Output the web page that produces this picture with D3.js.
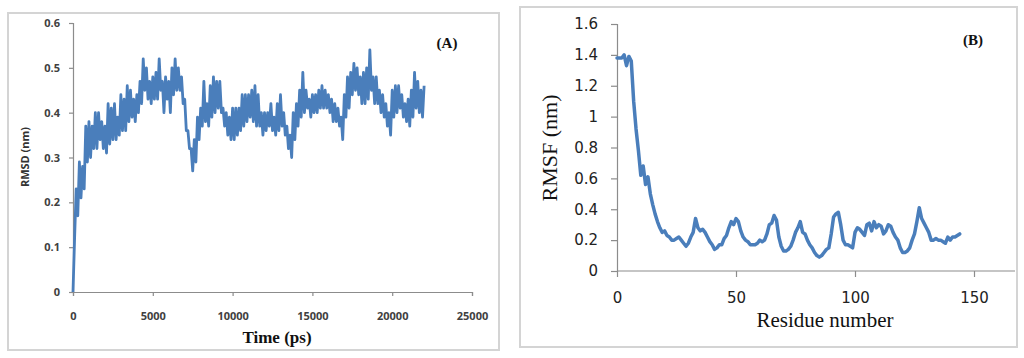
<!DOCTYPE html>
<html>
<head>
<meta charset="utf-8">
<script src="https://cdn.jsdelivr.net/npm/d3@7"></script>
<style>
  body { margin: 0; background: #fff; }
  svg { display: block; }
</style>
</head>
<body>
<div class="viz"></div>
<script>
// RMSD (nm) sampled every 100 ps, 0 .. 22000 ps
var rmsdStep = 100
var rmsd = [
  0.00, 0.12,
  0.23, 0.17, 0.29, 0.21, 0.28, 0.23, 0.37, 0.29, 0.38, 0.30,
  0.37, 0.32, 0.40, 0.32, 0.40, 0.34, 0.38, 0.32, 0.37, 0.31,
  0.42, 0.33, 0.41, 0.34, 0.42, 0.34, 0.39, 0.35, 0.44, 0.36,
  0.43, 0.36, 0.46, 0.38, 0.45, 0.39, 0.43, 0.38, 0.44, 0.40,
  0.47, 0.42, 0.52, 0.45, 0.50, 0.43, 0.47, 0.42, 0.48, 0.43,
  0.49, 0.43, 0.52, 0.45, 0.47, 0.40, 0.48, 0.43, 0.47, 0.40,
  0.50, 0.44, 0.52, 0.45, 0.50, 0.45, 0.48, 0.42, 0.43, 0.36,
  0.36, 0.32, 0.32, 0.27, 0.34, 0.29, 0.39, 0.34, 0.41, 0.37,
  0.47, 0.38, 0.42, 0.37, 0.46, 0.39, 0.48, 0.40, 0.47, 0.41,
  0.47, 0.40, 0.41, 0.37, 0.40, 0.35, 0.39, 0.34, 0.41, 0.34,
  0.41, 0.35, 0.41, 0.36, 0.44, 0.37, 0.44, 0.38, 0.44, 0.39,
  0.45, 0.38, 0.46, 0.37, 0.44, 0.37, 0.40, 0.35, 0.40, 0.36,
  0.40, 0.37, 0.42, 0.36, 0.39, 0.35, 0.42, 0.36, 0.44, 0.37,
  0.40, 0.35, 0.37, 0.32, 0.35, 0.30, 0.40, 0.34, 0.42, 0.37,
  0.45, 0.39, 0.49, 0.40, 0.45, 0.41, 0.43, 0.39, 0.44, 0.40,
  0.44, 0.40, 0.45, 0.41, 0.46, 0.41, 0.45, 0.41, 0.44, 0.40,
  0.43, 0.38, 0.42, 0.38, 0.41, 0.37, 0.39, 0.34, 0.44, 0.39,
  0.48, 0.41, 0.49, 0.44, 0.51, 0.45, 0.50, 0.44, 0.48, 0.42,
  0.49, 0.42, 0.50, 0.43, 0.54, 0.45, 0.48, 0.42, 0.48, 0.42,
  0.45, 0.40, 0.44, 0.39, 0.42, 0.37, 0.40, 0.35, 0.45, 0.39,
  0.46, 0.40, 0.46, 0.41, 0.44, 0.39, 0.42, 0.38, 0.43, 0.37,
  0.45, 0.39, 0.49, 0.41, 0.47, 0.40, 0.45, 0.39, 0.46
]
var rmsdTicksX = [0, 5000, 10000, 15000, 20000, 25000]
var rmsdTicksY = [0, 0.1, 0.2, 0.3, 0.4, 0.5, 0.6]

// RMSF (nm) per residue 0 .. 144
var rmsf = [
  1.38, 1.38, 1.38, 1.40, 1.33, 1.39, 1.36, 1.10, 0.92, 0.78,
  0.62, 0.68, 0.56, 0.61, 0.50, 0.43, 0.37, 0.32, 0.28, 0.25,
  0.26, 0.23, 0.22, 0.20, 0.20, 0.21, 0.22, 0.20, 0.18, 0.16,
  0.18, 0.22, 0.25, 0.34, 0.28, 0.26, 0.27, 0.25, 0.22, 0.19,
  0.17, 0.14, 0.15, 0.17, 0.17, 0.21, 0.23, 0.28, 0.32, 0.30,
  0.34, 0.32, 0.26, 0.22, 0.20, 0.19, 0.17, 0.17, 0.17, 0.18,
  0.20, 0.19, 0.20, 0.24, 0.30, 0.31, 0.36, 0.33, 0.22, 0.16,
  0.13, 0.13, 0.14, 0.16, 0.20, 0.25, 0.28, 0.32, 0.25, 0.24,
  0.20, 0.17, 0.15, 0.12, 0.10, 0.09, 0.10, 0.12, 0.14, 0.15,
  0.24, 0.35, 0.37, 0.38, 0.30, 0.20, 0.17, 0.17, 0.16, 0.15,
  0.25, 0.28, 0.27, 0.25, 0.23, 0.30, 0.31, 0.26, 0.32, 0.28,
  0.30, 0.29, 0.24, 0.26, 0.30, 0.29, 0.25, 0.22, 0.20, 0.15,
  0.12, 0.12, 0.13, 0.15, 0.20, 0.24, 0.32, 0.41, 0.34, 0.31,
  0.28, 0.25, 0.20, 0.20, 0.21, 0.20, 0.20, 0.19, 0.18, 0.22,
  0.20, 0.22, 0.22, 0.23, 0.24
]
var rmsfTicksX = [0, 50, 100, 150]
var rmsfTicksY = [0, 0.2, 0.4, 0.6, 0.8, 1, 1.2, 1.4, 1.6]

var lineColor = "#4a7ebb"
var axisColor = "#8c8c8c"

var svg = d3.select(".viz").append("svg")
  .attr("width", 1024)
  .attr("height", 358)

// ---------- panel A ----------
svg.append("rect")
  .attr("x", 8).attr("y", 13)
  .attr("width", 491).attr("height", 337)
  .attr("fill", "none")
  .attr("stroke", "#d4d4d4")
  .attr("stroke-width", 2)

var xA = d3.scaleLinear().domain([0, 25000]).range([73, 472])
var yA = d3.scaleLinear().domain([0, 0.6]).range([292, 23])

var gA = svg.append("g")

gA.append("g")
  .attr("transform", "translate(0," + yA(0) + ")")
  .call(d3.axisBottom(xA).tickValues(rmsdTicksX).tickSize(4).tickPadding(16).tickFormat(d3.format("d")))
  .call(styleAxis)
  .selectAll("text")
  .attr("font-family", "Open Sans, sans-serif")
  .attr("font-weight", "bold")
  .attr("font-size", "11px")
  .attr("fill", "#404040")

gA.append("g")
  .attr("transform", "translate(" + xA(0) + ",0)")
  .call(d3.axisLeft(yA).tickValues(rmsdTicksY).tickSize(4).tickPadding(9).tickFormat(d3.format("")))
  .call(styleAxis)
  .selectAll("text")
  .attr("font-family", "Open Sans, sans-serif")
  .attr("font-weight", "bold")
  .attr("font-size", "11px")
  .attr("fill", "#404040")

var lineA = d3.line()
  .x(function(d, i) { return xA(i * rmsdStep) })
  .y(function(d) { return yA(d) })

gA.append("path")
  .datum(rmsd)
  .attr("d", lineA)
  .attr("fill", "none")
  .attr("stroke", lineColor)
  .attr("stroke-width", 2.8)
  .attr("stroke-linejoin", "round")

gA.append("text")
  .attr("transform", "translate(29,157) rotate(-90)")
  .attr("text-anchor", "middle")
  .attr("font-family", "Open Sans, sans-serif")
  .attr("font-weight", "bold")
  .attr("font-size", "11px")
  .attr("fill", "#333")
  .text("RMSD (nm)")

gA.append("text")
  .attr("x", 277).attr("y", 343)
  .attr("text-anchor", "middle")
  .attr("font-family", "Liberation Serif, serif")
  .attr("font-weight", "bold")
  .attr("font-size", "17px")
  .attr("fill", "#111")
  .text("Time (ps)")

gA.append("text")
  .attr("x", 447).attr("y", 48)
  .attr("text-anchor", "middle")
  .attr("font-family", "Liberation Serif, serif")
  .attr("font-weight", "bold")
  .attr("font-size", "15px")
  .attr("fill", "#111")
  .text("(A)")

// ---------- panel B ----------
svg.append("rect")
  .attr("x", 520).attr("y", 7)
  .attr("width", 497).attr("height", 340)
  .attr("fill", "none")
  .attr("stroke", "#d4d4d4")
  .attr("stroke-width", 2)

var xB = d3.scaleLinear().domain([0, 150]).range([617, 974])
var yB = d3.scaleLinear().domain([0, 1.6]).range([271, 24])

var gB = svg.append("g")

var axB = gB.append("g")
  .attr("transform", "translate(0," + yB(0) + ")")
  .call(d3.axisBottom(xB).tickValues(rmsfTicksX).tickSize(6).tickPadding(15))
  .call(styleAxis)
// axis line runs on past 150 to the frame
axB.select(".domain").attr("d", "M" + xB(0) + ",0H1015")
axB.selectAll("text")
  .attr("font-family", "DejaVu Sans, sans-serif")
  .attr("font-size", "15px")
  .attr("fill", "#222")

gB.append("g")
  .attr("transform", "translate(" + xB(0) + ",0)")
  .call(d3.axisLeft(yB).tickValues(rmsfTicksY).tickSize(6).tickPadding(13).tickFormat(d3.format("")))
  .call(styleAxis)
  .selectAll("text")
  .attr("font-family", "DejaVu Sans, sans-serif")
  .attr("font-size", "15px")
  .attr("fill", "#222")

var lineB = d3.line()
  .x(function(d, i) { return xB(i) })
  .y(function(d) { return yB(d) })

gB.append("path")
  .datum(rmsf)
  .attr("d", lineB)
  .attr("fill", "none")
  .attr("stroke", lineColor)
  .attr("stroke-width", 3.5)
  .attr("stroke-linejoin", "round")
  .attr("stroke-linecap", "round")

gB.append("text")
  .attr("transform", "translate(557,148) rotate(-90)")
  .attr("text-anchor", "middle")
  .attr("font-family", "Liberation Serif, serif")
  .attr("font-size", "22px")
  .attr("fill", "#111")
  .text("RMSF (nm)")

gB.append("text")
  .attr("x", 825).attr("y", 327)
  .attr("text-anchor", "middle")
  .attr("font-family", "Liberation Serif, serif")
  .attr("font-size", "21px")
  .attr("fill", "#111")
  .text("Residue number")

gB.append("text")
  .attr("x", 973).attr("y", 45)
  .attr("text-anchor", "middle")
  .attr("font-family", "Liberation Serif, serif")
  .attr("font-weight", "bold")
  .attr("font-size", "15px")
  .attr("fill", "#111")
  .text("(B)")

function styleAxis(g) {
  g.select(".domain").attr("stroke", axisColor).attr("stroke-width", 1.2)
  g.selectAll(".tick line").attr("stroke", axisColor).attr("stroke-width", 1.2)
}
</script>
</body>
</html>
